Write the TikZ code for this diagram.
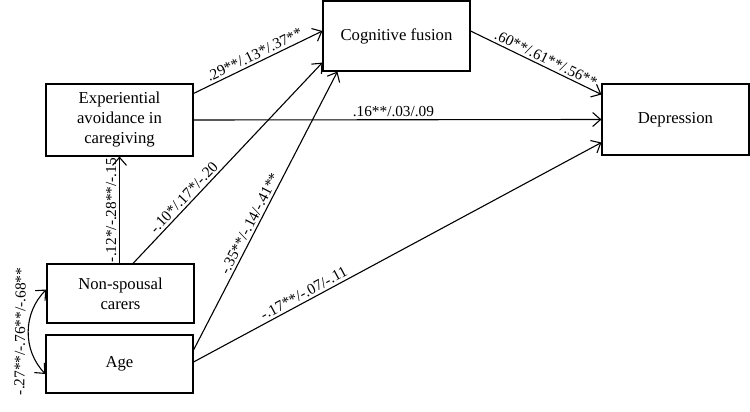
\documentclass[tikz,border=0pt]{standalone}
\usepackage{fontspec}
\setmainfont{Liberation Serif}
\usetikzlibrary{arrows.meta}

\begin{document}
\begin{tikzpicture}[x=1pt, y=-1pt,
    box/.style={draw, line width=1.1pt, minimum width=147pt, align=center, inner sep=0pt, font=\fontsize{16.7}{20}\selectfont},
    effect/.style={draw, line width=1.1pt, -{Straight Barb[length=8pt,width=14pt]}},
    coef/.style={font=\fontsize{15.3}{18}\selectfont, sloped, inner sep=2.5pt}]
    \useasboundingbox (0,0) rectangle (750,412);

    % the variables
    \node[box, minimum height=72pt] (EA) at (119.5,120) {Experiential\\avoidance in\\caregiving};
    \node[box, minimum height=70pt] (CF) at (396.5,36) {Cognitive fusion};
    \node[box, minimum height=71pt] (Dep) at (675.5,119.5) {Depression};
    \node[box, minimum height=59pt] (NS) at (120.5,293.5) {Non-spousal\\carers};
    \node[box, minimum height=58pt] (Age) at (119.5,364) {Age};

    % paths to the mediator and the outcome
    \draw[effect] ([yshift=-10pt]EA.north east) -- node[coef, above] {.29**/.13*/.37**} ([yshift=5pt]CF.west);
    \draw[effect] (EA.east) -- node[coef, above, pos=0.49] {.16**/.03/.09} (Dep.west);
    \draw[effect] ([yshift=5pt]CF.east) -- node[coef, above, pos=0.55] {.60**/.61**/.56**} ([yshift=25pt]Dep.west);

    % paths from the covariates
    \draw[effect] (EA.south |- NS.north) -- node[coef, above] {-.12*/-.28**/-.15} (EA.south);
    \draw[effect] ([xshift=12.5pt]NS.north) -- node[coef, above, pos=0.3] {-.10*/.17*/-.20} ([yshift=9pt]CF.south west);
    \draw[effect] ([yshift=14pt]Age.east) -- node[coef, above, pos=0.44] {-.35**/-.14/-.41**} ([xshift=15pt]CF.south west);
    \draw[effect] ([yshift=2pt]Age.east) -- node[coef, above, pos=0.28] {-.17**/-.07/-.11} ([yshift=-23pt]Dep.west);

    % correlation of the covariates
    \draw[effect, {Straight Barb[length=8pt,width=14pt]}-{Straight Barb[length=8pt,width=14pt]}] ([yshift=-10pt]Age.west) to[bend left=45] node[coef, above] {-.27**/-.76**/-.68**} ([yshift=4pt]NS.west);

\end{tikzpicture}
\end{document}
